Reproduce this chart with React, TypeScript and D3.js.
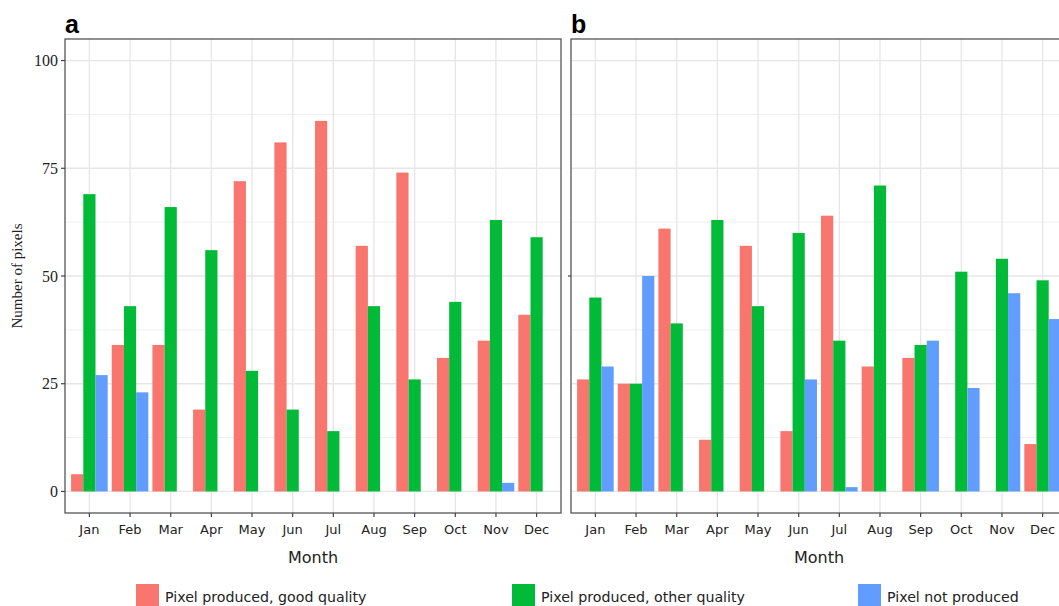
import React from "react";
import * as d3 from "d3";

const months = ["Jan", "Feb", "Mar", "Apr", "May", "Jun", "Jul", "Aug", "Sep", "Oct", "Nov", "Dec"];
const seriesNames = ["Pixel produced, good quality", "Pixel produced, other quality", "Pixel not produced"];
const colors = ["#F8766D", "#00BA38", "#619CFF"];

// Panel a
const aGood = [4, 34, 34, 19, 72, 81, 86, 57, 74, 31, 35, 41];
const aOther = [69, 43, 66, 56, 28, 19, 14, 43, 26, 44, 63, 59];
const aNot = [27, 23, 0, 0, 0, 0, 0, 0, 0, 0, 2, 0];

// Panel b
const bGood = [26, 25, 61, 12, 57, 14, 64, 29, 31, 0, 0, 11];
const bOther = [45, 25, 39, 63, 43, 60, 35, 71, 34, 51, 54, 49];
const bNot = [29, 50, 0, 0, 0, 26, 1, 0, 35, 24, 46, 40];

const yTicks = [0, 25, 50, 75, 100];
const yMinor = [12.5, 37.5, 62.5, 87.5];

const W = 1059;
const H = 606;
const top = 39;
const bottom = 513;
const panelW = 496;
const panels = [
  { label: "a", left: 65, data: [aGood, aOther, aNot], yLabels: true },
  { label: "b", left: 571, data: [bGood, bOther, bNot], yLabels: false },
];

const y = d3.scaleLinear().domain([-5, 105]).range([bottom, top]);

function Panel({ p }: { p: any }) {
  const x = d3
    .scalePoint<string>()
    .domain(months)
    .range([p.left, p.left + panelW])
    .padding(0.6);
  const step = x.step();
  const groupW = step * 0.9;
  const barW = groupW / 3;
  const right = p.left + panelW;
  const sans = "Tahoma, 'DejaVu Sans', sans-serif";
  return (
    <g>
      <defs>
        <clipPath id={"clip-" + p.label}>
          <rect x={p.left} y={top} width={panelW} height={bottom - top} />
        </clipPath>
      </defs>
      <rect x={p.left} y={top} width={panelW} height={bottom - top} fill="#ffffff" />
      <g clipPath={`url(#clip-${p.label})`}>
        {yMinor.map((v) => (
          <line key={"mi" + v} x1={p.left} x2={right} y1={y(v)} y2={y(v)} stroke="#ebebeb" strokeWidth={0.8} />
        ))}
        {yTicks.map((v) => (
          <line key={"ma" + v} x1={p.left} x2={right} y1={y(v)} y2={y(v)} stroke="#e6e6e6" strokeWidth={1.3} />
        ))}
        {months.map((m) => (
          <line key={"v" + m} x1={x(m)!} x2={x(m)!} y1={top} y2={bottom} stroke="#e6e6e6" strokeWidth={1.3} />
        ))}
        {p.data.map((series: number[], si: number) =>
          series.map((v, i) => {
            const x0 = x(months[i])! - groupW / 2 + si * barW;
            return (
              <rect
                key={si + "-" + i}
                x={x0}
                y={y(v)}
                width={barW}
                height={Math.max(0, y(0) - y(v))}
                fill={colors[si]}
              />
            );
          })
        )}
      </g>
      <rect x={p.left} y={top} width={panelW} height={bottom - top} fill="none" stroke="#555" strokeWidth={1.3} />
      {months.map((m) => (
        <g key={"t" + m}>
          <line x1={x(m)!} x2={x(m)!} y1={bottom} y2={bottom + 4} stroke="#444" strokeWidth={1.2} />
          <text x={x(m)!} y={534} textAnchor="middle" fontFamily={sans} fontSize={13} fill="#222">
            {m}
          </text>
        </g>
      ))}
      {p.yLabels
        ? yTicks.map((v) => (
            <g key={"yt" + v}>
              <line x1={p.left - 4} x2={p.left} y1={y(v)} y2={y(v)} stroke="#444" strokeWidth={1.2} />
              <text
                x={p.left - 7}
                y={y(v) + 5.5}
                textAnchor="end"
                fontFamily="'Liberation Serif', 'Times New Roman', serif"
                fontSize={16}
                fill="#222"
              >
                {v}
              </text>
            </g>
          ))
        : <line x1={p.left - 3} x2={p.left} y1={y(50)} y2={y(50)} stroke="#444" strokeWidth={1.2} />}
      <text
        x={(p.left + right) / 2}
        y={563}
        textAnchor="middle"
        fontFamily={sans}
        fontSize={16}
        fill="#222"
      >
        Month
      </text>
      <text x={p.left} y={33} fontFamily="'Liberation Sans', Arial, sans-serif" fontWeight="bold" fontSize={25} fill="#000">
        {p.label}
      </text>
    </g>
  );
}

const legendPos = [136, 512, 858];

export default function App() {
  return (
    <svg
      width={W}
      height={H}
      style={{ position: "absolute", left: 0, top: 0, background: "#fff" }}
    >
      <rect x={0} y={0} width={W} height={H} fill="#fff" />
      {panels.map((p) => (
        <Panel key={p.label} p={p} />
      ))}
      <text
        transform={`translate(22, ${(top + bottom) / 2}) rotate(-90)`}
        textAnchor="middle"
        fontFamily="'Liberation Serif', 'Times New Roman', serif"
        fontSize={15}
        fill="#222"
      >
        Number of pixels
      </text>
      {seriesNames.map((s, i) => (
        <g key={s}>
          <rect x={legendPos[i]} y={584} width={23} height={24} fill={colors[i]} />
          <text
            x={legendPos[i] + 29}
            y={602}
            fontFamily="Tahoma, 'DejaVu Sans', sans-serif"
            fontSize={14.2}
            fill="#222"
          >
            {s}
          </text>
        </g>
      ))}
    </svg>
  );
}
